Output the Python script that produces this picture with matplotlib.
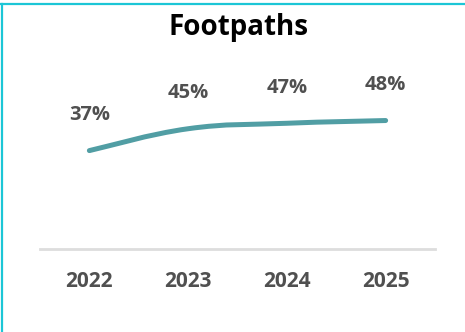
import matplotlib
matplotlib.use('Agg')
import matplotlib.pyplot as plt
from matplotlib.path import Path
from matplotlib.patches import PathPatch
from matplotlib.lines import Line2D

# ---- data ----
years = ['2022', '2023', '2024', '2025']
values = [37, 45, 47, 48]
title = 'Footpaths'

LINE_COLOR = '#519ea4'
TEXT_GREY = '#505050'
BORDER = '#1cc6d6'
FONT = ['Open Sans', 'DejaVu Sans']

fig = plt.figure(figsize=(4.65, 3.32), dpi=100)
ax = fig.add_axes([40 / 465, 83 / 332, 395 / 465, 164 / 332])

x = list(range(len(values)))

# smooth line (bezier, tension 0.4 like the original chart)
tension = 0.2
verts = [(x[0], values[0])]
codes = [Path.MOVETO]
for i in range(len(x) - 1):
    p0 = (x[i - 1], values[i - 1]) if i > 0 else (x[i], values[i])
    p1 = (x[i], values[i])
    p2 = (x[i + 1], values[i + 1])
    p3 = (x[i + 2], values[i + 2]) if i + 2 < len(x) else p2
    c1 = (p1[0] + tension * (p2[0] - p0[0]), p1[1] + tension * (p2[1] - p0[1]))
    c2 = (p2[0] - tension * (p3[0] - p1[0]), p2[1] - tension * (p3[1] - p1[1]))
    verts += [c1, c2, p2]
    codes += [Path.CURVE4] * 3
ax.add_patch(PathPatch(Path(verts, codes), facecolor='none', edgecolor=LINE_COLOR,
                       lw=3.6, capstyle='round', joinstyle='round'))

for xi, v in zip(x, values):
    ax.annotate(f'{v}%', (xi, v), xytext=(0, 25.5), textcoords='offset points',
                ha='center', va='center', fontsize=14.5, fontweight='bold',
                color=TEXT_GREY, family=FONT)

ax.set_xlim(-0.5, 3.5)
ax.set_ylim(1, 61)
ax.set_xticks(x)
ax.set_xticklabels(years, fontsize=15, fontweight='bold', color=TEXT_GREY, family=FONT)
ax.set_yticks([])
ax.tick_params(axis='x', length=0, pad=16)
for s in ['top', 'right', 'left']:
    ax.spines[s].set_visible(False)
ax.spines['bottom'].set_color('#dddddd')
ax.spines['bottom'].set_linewidth(2)

fig.text(238 / 465, 1 - 27 / 332, title, ha='center', va='center', fontsize=20,
         fontweight='bold', color='black', family=FONT)

# card border (top + left)
fig.add_artist(Line2D([0, 1], [1 - 3.5 / 332] * 2, color=BORDER, lw=1.6))
fig.add_artist(Line2D([1.8 / 465] * 2, [0, 1 - 3.5 / 332], color=BORDER, lw=1.6))

fig.savefig('out.png', dpi=100)
